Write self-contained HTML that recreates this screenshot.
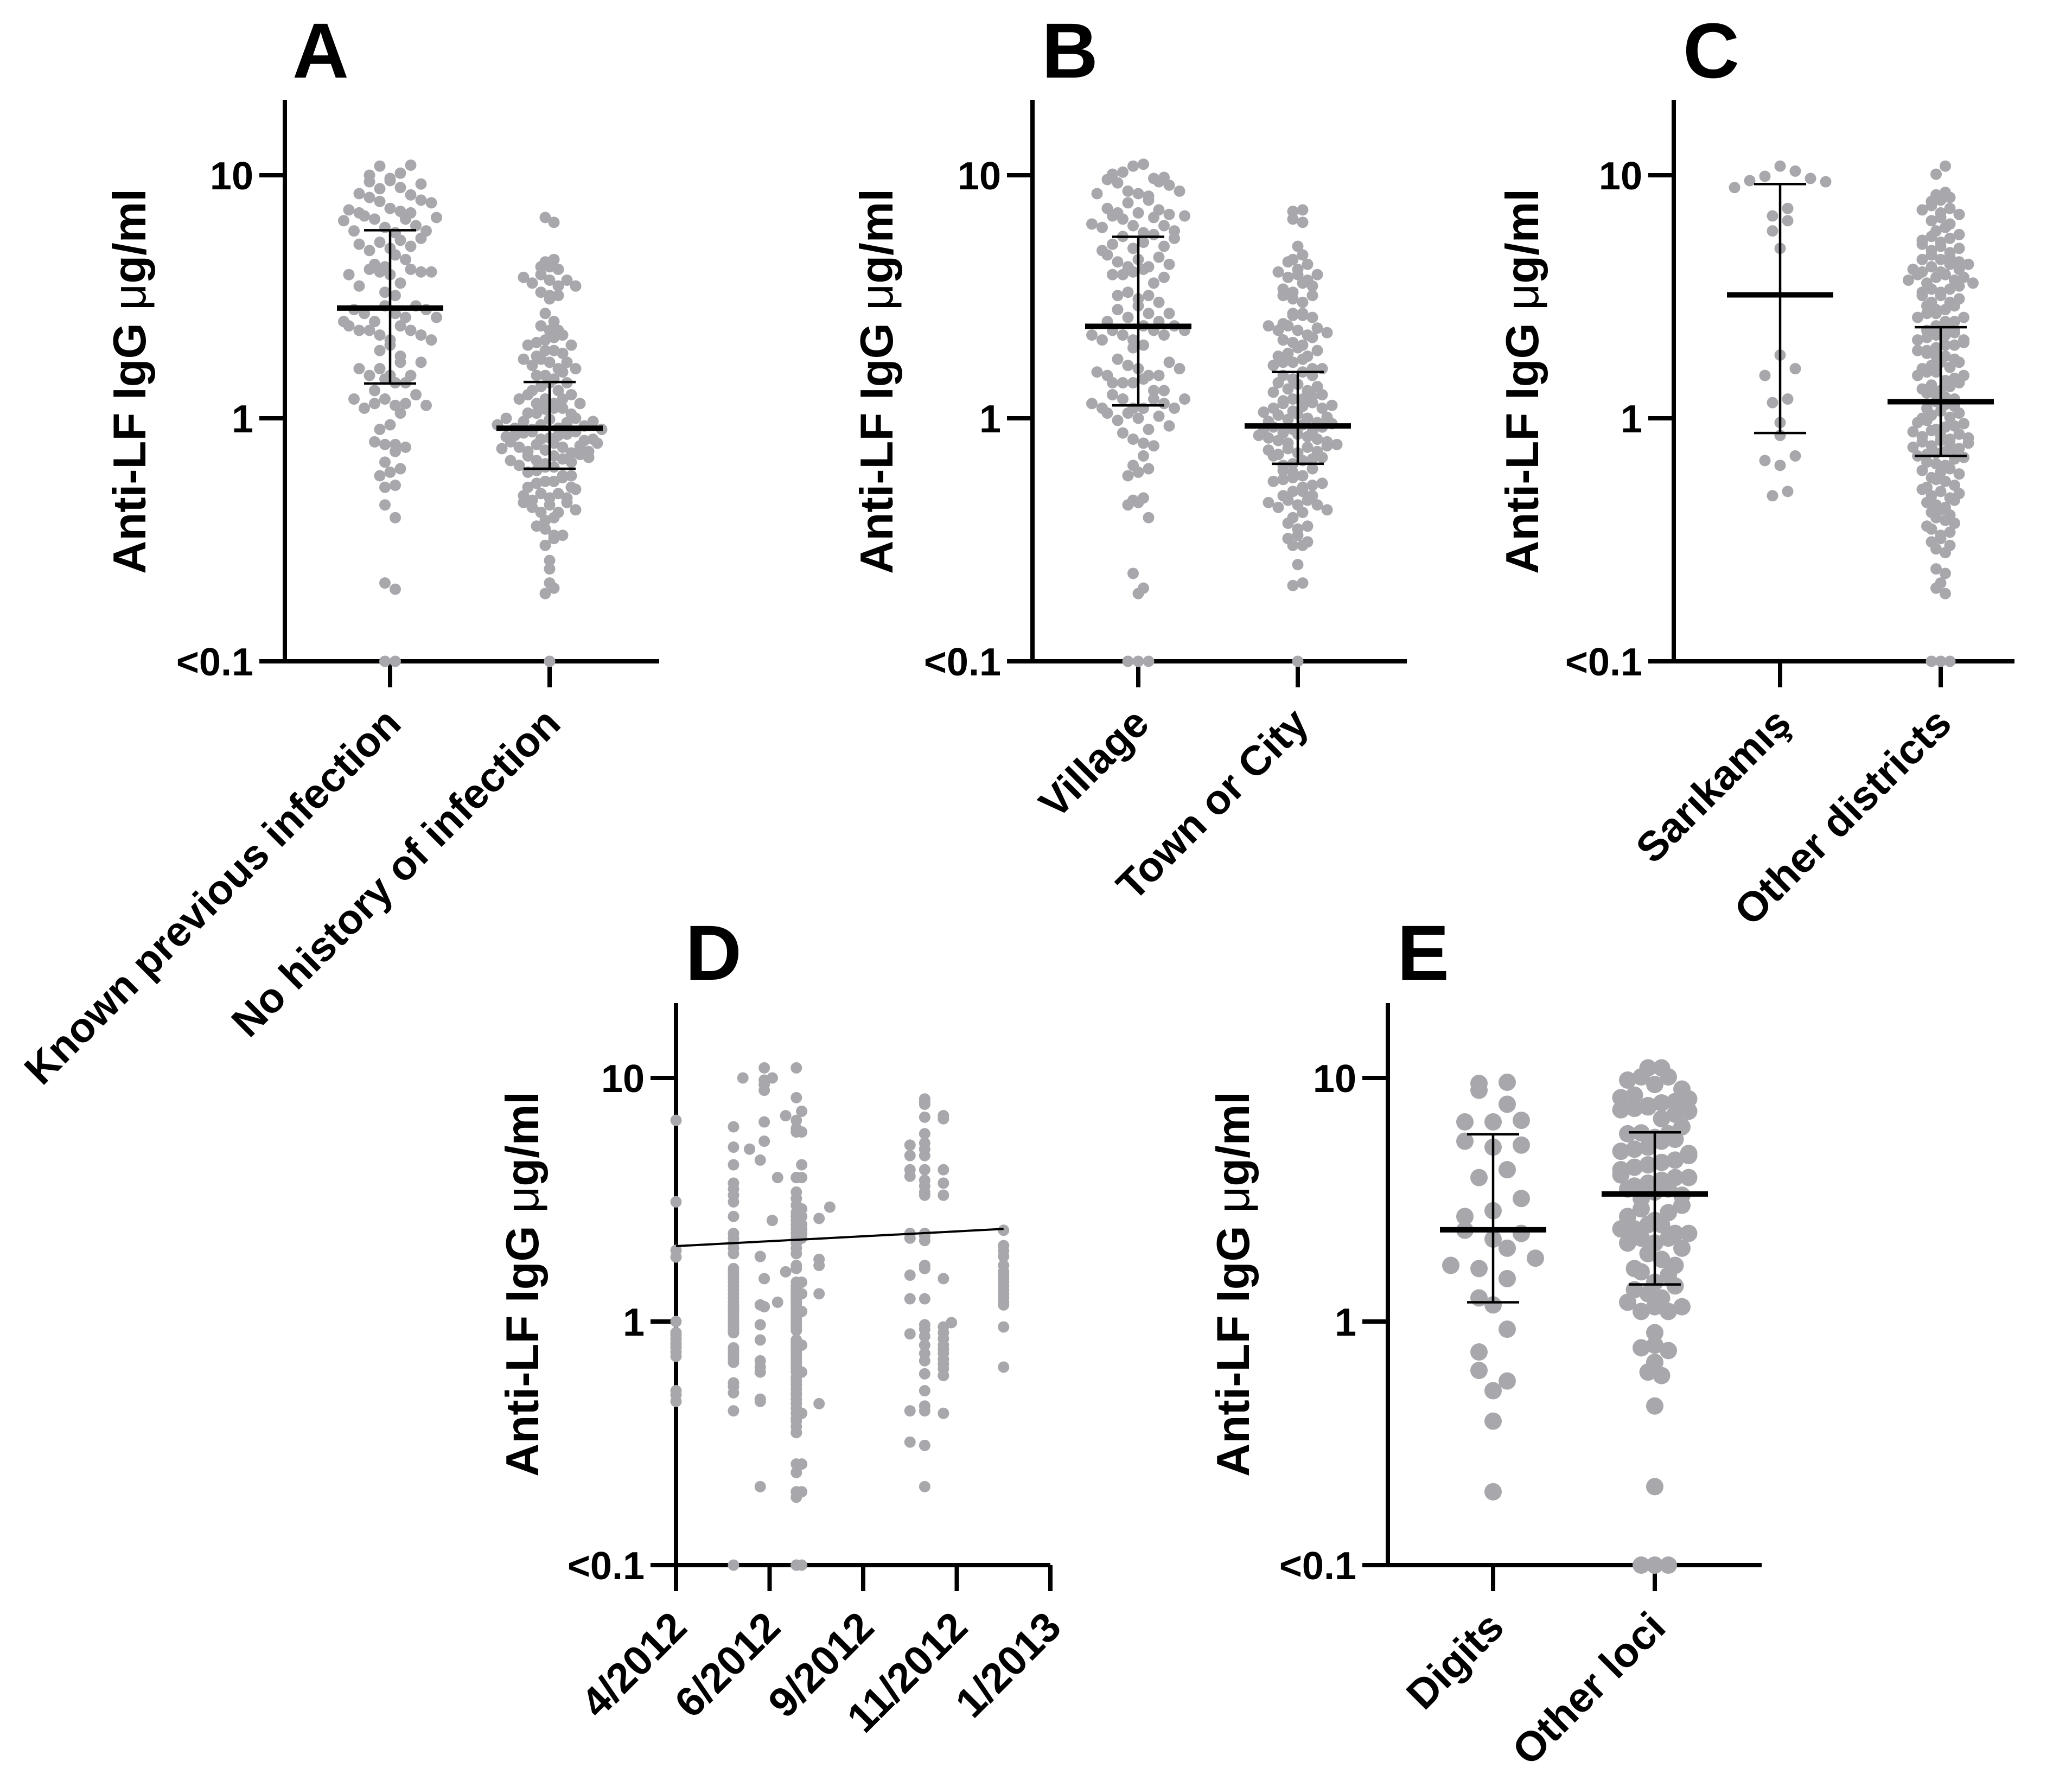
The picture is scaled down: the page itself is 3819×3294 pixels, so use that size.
<!DOCTYPE html>
<html lang="en">
<head>
<meta charset="utf-8">
<title>Anti-LF IgG by group</title>
<style>
html,body{margin:0;padding:0;background:#fff;width:3819px;height:3294px;overflow:hidden}
svg{display:block}
text{font-family:"Liberation Sans",Arial,sans-serif;fill:#000}
</style>
</head>
<body>
<svg id="figure" xmlns="http://www.w3.org/2000/svg" width="3819" height="3294" viewBox="0 0 3819 3294"></svg>
<script>
/* shared axis content */
const yTickValues = [10, 1, 0.1];
const yTickLabels = ["10", "1", "<0.1"];

/* Panel A */
const aCategories = ["Known previous infection", "No history of infection"];
const aMeans = [2.84, 0.91];
const aErrHigh = [5.94, 1.41];
const aErrLow = [1.39, 0.62];
const aKnown = [11.0,10.9,10.2,10.0,9.7,9.5,9.4,9.2,8.9,8.8,8.4,8.3,8.1,7.9,7.8,7.7,7.3,7.2,7.1,7.0,7.0,6.8,6.7,6.6,6.6,6.5,6.2,6.1,5.9,5.9,5.8,5.5,5.4,5.3,5.2,5.1,5.0,4.9,4.7,4.5,4.3,4.2,4.1,4.1,4.0,4.0,4.0,3.9,3.9,3.6,3.5,3.3,3.2,2.9,2.9,2.8,2.8,2.7,2.7,2.6,2.6,2.5,2.5,2.4,2.4,2.3,2.3,2.3,2.2,2.2,2.1,2.1,2.0,1.9,1.8,1.7,1.7,1.6,1.6,1.5,1.5,1.5,1.45,1.4,1.4,1.3,1.25,1.2,1.2,1.15,1.15,1.13,1.13,1.1,1.05,0.94,0.9,0.8,0.78,0.78,0.76,0.73,0.66,0.62,0.6,0.58,0.53,0.52,0.44,0.39,0.21,0.198,0.1,0.1];
const aNoHistory = [6.7,6.4,4.5,4.4,4.2,4.2,4.1,3.9,3.8,3.7,3.7,3.6,3.5,3.5,3.3,3.2,3.2,3.1,2.7,2.5,2.4,2.3,2.3,2.2,2.15,2.1,2.05,2.0,2.0,1.9,1.9,1.85,1.8,1.75,1.75,1.7,1.7,1.65,1.6,1.6,1.55,1.5,1.5,1.45,1.4,1.4,1.35,1.3,1.3,1.25,1.25,1.2,1.2,1.2,1.15,1.15,1.15,1.1,1.1,1.09,1.05,1.05,1.04,1.0,1.0,0.99,0.97,0.97,0.96,0.94,0.94,0.93,0.91,0.91,0.9,0.9,0.88,0.88,0.87,0.86,0.85,0.85,0.84,0.83,0.82,0.82,0.81,0.8,0.79,0.79,0.78,0.77,0.76,0.76,0.75,0.74,0.73,0.73,0.72,0.71,0.7,0.7,0.69,0.68,0.67,0.67,0.66,0.65,0.64,0.63,0.63,0.61,0.6,0.58,0.58,0.57,0.55,0.55,0.54,0.52,0.52,0.51,0.49,0.49,0.48,0.47,0.47,0.46,0.45,0.45,0.44,0.43,0.42,0.41,0.41,0.39,0.38,0.36,0.35,0.33,0.33,0.32,0.3,0.26,0.24,0.21,0.2,0.19,0.1];

/* Panel B */
const bCategories = ["Village", "Town or City"];
const bMeans = [2.39, 0.93];
const bErrHigh = [5.58, 1.55];
const bErrLow = [1.13, 0.65];
const bVillage = [11.1,10.9,10.3,10.1,9.8,9.7,9.6,9.4,9.3,9.1,8.6,8.6,8.4,8.4,8.2,7.9,7.7,7.3,7.2,7.0,7.0,6.9,6.8,6.8,6.7,6.6,6.3,6.2,6.2,6.1,5.9,5.8,5.7,5.6,5.5,5.3,5.2,5.1,5.0,4.9,4.7,4.6,4.5,4.4,4.3,4.2,4.2,4.1,4.0,3.9,3.9,3.8,3.6,3.3,3.2,3.2,3.1,3.0,2.9,2.8,2.7,2.7,2.6,2.5,2.5,2.4,2.4,2.3,2.3,2.3,2.2,2.2,2.2,2.1,2.1,2.0,1.95,1.75,1.7,1.65,1.6,1.6,1.55,1.5,1.5,1.5,1.45,1.4,1.4,1.4,1.3,1.3,1.25,1.2,1.2,1.2,1.15,1.15,1.1,1.1,1.1,1.1,1.05,1.05,1.02,1.0,0.98,0.93,0.9,0.87,0.82,0.79,0.77,0.7,0.64,0.62,0.6,0.58,0.47,0.46,0.45,0.44,0.39,0.23,0.2,0.19,0.1,0.1,0.1];
const bTown = [7.2,7.1,6.6,6.4,5.1,4.7,4.5,4.4,4.3,4.1,4.0,3.9,3.9,3.8,3.7,3.6,3.5,3.4,3.3,3.2,3.2,3.1,3.0,2.7,2.7,2.65,2.65,2.6,2.45,2.4,2.4,2.35,2.3,2.3,2.25,2.2,2.15,2.1,2.05,2.0,1.95,1.9,1.85,1.8,1.8,1.75,1.7,1.7,1.65,1.6,1.6,1.55,1.5,1.5,1.45,1.4,1.38,1.35,1.32,1.3,1.28,1.25,1.23,1.2,1.2,1.18,1.16,1.15,1.13,1.12,1.1,1.1,1.07,1.06,1.04,1.03,1.01,1.0,0.99,0.97,0.96,0.95,0.94,0.92,0.92,0.9,0.9,0.88,0.87,0.86,0.85,0.84,0.83,0.82,0.81,0.8,0.79,0.78,0.77,0.76,0.75,0.74,0.73,0.72,0.71,0.7,0.69,0.68,0.67,0.65,0.64,0.62,0.61,0.6,0.58,0.57,0.56,0.55,0.54,0.53,0.52,0.5,0.5,0.48,0.48,0.46,0.46,0.45,0.44,0.44,0.43,0.42,0.41,0.39,0.37,0.36,0.35,0.33,0.32,0.31,0.3,0.3,0.25,0.21,0.205,0.1];

/* Panel C */
const cCategories = ["Sarıkamış", "Other districts"];
const cMeans = [3.22, 1.17];
const cErrHigh = [9.2, 2.37];
const cErrLow = [0.87, 0.70];
const cSarikamis = [10.9,10.4,9.9,9.7,9.5,9.4,8.9,7.3,6.8,6.5,5.9,5.0,1.82,1.6,1.5,1.2,1.16,0.96,0.85,0.7,0.67,0.64,0.5,0.48];
const cOther = [10.9,10.1,8.5,8.3,8.1,7.9,7.8,7.5,7.3,7.2,7.0,6.9,6.7,6.5,6.3,6.1,5.9,5.7,5.6,5.5,5.4,5.3,5.2,5.1,5.0,4.9,4.8,4.7,4.6,4.5,4.5,4.4,4.3,4.3,4.2,4.1,4.1,4.0,4.0,3.9,3.9,3.8,3.8,3.7,3.7,3.6,3.6,3.5,3.4,3.4,3.3,3.3,3.2,3.2,3.1,3.0,3.0,2.9,2.9,2.8,2.8,2.7,2.7,2.6,2.6,2.5,2.5,2.4,2.4,2.3,2.3,2.25,2.2,2.2,2.15,2.1,2.1,2.05,2.0,2.0,1.95,1.9,1.9,1.85,1.8,1.8,1.75,1.7,1.7,1.65,1.62,1.6,1.55,1.55,1.5,1.5,1.46,1.43,1.4,1.37,1.35,1.32,1.3,1.27,1.25,1.22,1.2,1.17,1.14,1.12,1.1,1.07,1.05,1.03,1.01,1.0,0.98,0.96,0.95,0.93,0.92,0.9,0.89,0.88,0.86,0.85,0.84,0.83,0.82,0.81,0.8,0.79,0.78,0.77,0.76,0.75,0.74,0.73,0.72,0.71,0.7,0.69,0.68,0.66,0.65,0.64,0.62,0.61,0.6,0.59,0.57,0.56,0.55,0.53,0.52,0.51,0.5,0.49,0.48,0.47,0.46,0.45,0.44,0.43,0.42,0.41,0.4,0.39,0.38,0.37,0.36,0.35,0.34,0.33,0.32,0.31,0.3,0.29,0.28,0.24,0.23,0.21,0.2,0.19,0.1,0.1,0.1];

/* Panel D: days since April 2012, one value list per sampling date */
const dTickDays = [0, 70, 140, 210, 280];
const dTickLabels = ["4/2012", "6/2012", "9/2012", "11/2012", "1/2013"];
const dSampleDays = [0, 43, 50, 55, 63, 66, 72, 76, 82, 90, 94, 107, 115, 175, 186, 200, 206, 245];
const dDay0 = [6.7,3.1,1.96,1.84,1.0,0.9,0.88,0.85,0.82,0.8,0.78,0.75,0.72,0.52,0.5,0.47];
const dDay43 = [6.3,5.2,4.4,3.7,3.5,3.3,3.1,2.7,2.3,2.2,2.1,2.0,1.9,1.65,1.6,1.55,1.5,1.45,1.4,1.35,1.3,1.25,1.2,1.17,1.15,1.12,1.1,1.08,1.05,1.02,1.0,0.98,0.96,0.94,0.92,0.9,0.9,0.78,0.76,0.74,0.72,0.7,0.68,0.56,0.54,0.51,0.43,0.1];
const dDay50 = [10];
const dDay55 = [5.1];
const dDay63 = [4.6,1.85,1.85,1.17,0.97,0.84,0.69,0.65,0.62,0.48,0.47,0.21];
const dDay66 = [11,9.8,9.4,8.9,6.6,5.5,1.5,1.15];
const dDay72 = [10,2.6];
const dDay76 = [3.9,1.2];
const dDay82 = [7.0,1.6];
const dDay90 = [11,8.3,6.7,6.2,6.0,3.9,3.9,3.4,3.2,3,2.8,2.7,2.6,2.5,2.4,2.3,2.2,2.1,2.0,1.9,1.7,1.65,1.45,1.4,1.37,1.35,1.32,1.3,1.27,1.25,1.22,1.2,1.18,1.15,1.12,1.1,1.07,1.05,1.03,1.0,0.98,0.96,0.94,0.92,0.84,0.82,0.8,0.78,0.76,0.74,0.72,0.7,0.68,0.66,0.64,0.62,0.59,0.57,0.55,0.53,0.51,0.5,0.48,0.46,0.44,0.42,0.4,0.39,0.37,0.35,0.35,0.26,0.24,0.2,0.19,0.1,0.1,0.1];
const dDay94 = [7.3,6.0,4.4,3.9,2.9,2.7,2.5,2.4,2.3,2.2,1.45,1.3,1.1,0.8,0.62,0.42,0.26,0.2,0.1];
const dDay107 = [2.65,1.8,1.7,1.3,0.46];
const dDay115 = [2.95];
const dDay175 = [5.3,4.8,4.2,3.95,2.3,2.2,1.55,1.24,0.89,0.43,0.32];
const dDay186 = [8.2,8.0,7.8,6.9,5.9,5.4,5.1,4.8,4.2,3.8,3.6,3.4,3.3,2.3,2.25,2.15,1.7,1.65,1.24,0.97,0.93,0.87,0.8,0.74,0.69,0.61,0.52,0.45,0.43,0.31,0.21];
const dDay200 = [7.0,6.8,4.2,3.7,3.3,1.5,0.95,0.9,0.85,0.8,0.77,0.74,0.7,0.67,0.64,0.6,0.42];
const dDay206 = [0.99];
const dDay245 = [2.37,2.05,1.95,1.85,1.7,1.6,1.55,1.5,1.45,1.4,1.35,1.3,1.25,1.2,1.17,0.95,0.65];
const dSampleValues = [dDay0,dDay43,dDay50,dDay55,dDay63,dDay66,dDay72,dDay76,dDay82,dDay90,dDay94,dDay107,dDay115,dDay175,dDay186,dDay200,dDay206,dDay245];
const dTrendDays = [0, 245];
const dTrendValues = [2.04, 2.4];

/* Panel E */
const eCategories = ["Digits", "Other loci"];
const eMeans = [2.38, 3.34];
const eErrHigh = [5.87, 5.98];
const eErrLow = [1.2, 1.42];
const eDigits = [9.6,9.5,8.9,7.8,6.7,6.6,6.6,5.5,5.3,5.2,4.2,3.9,3.2,2.85,2.7,2.37,2.3,2.18,2.0,1.82,1.7,1.65,1.5,1.25,1.17,0.93,0.75,0.63,0.57,0.52,0.39,0.2];
const eOther = [11,11,10.1,10.1,9.8,9.4,9.0,8.5,8.3,8.2,8.0,7.9,7.7,7.6,7.5,7.4,7.3,7.1,6.8,6.3,5.95,5.9,5.9,5.7,5.6,5.5,5.2,5.1,5,4.9,4.8,4.6,4.5,4.4,4.3,4.2,4,3.9,3.9,3.8,3.7,3.6,3.5,3.5,3.4,3.3,3.2,3,2.9,2.8,2.7,2.6,2.5,2.5,2.4,2.4,2.3,2.3,2.2,2.2,2.1,2.1,2,1.9,1.8,1.7,1.65,1.6,1.55,1.45,1.4,1.35,1.3,1.25,1.2,1.15,1.15,1.1,1.1,0.9,0.8,0.78,0.76,0.68,0.62,0.6,0.45,0.21,0.1,0.1,0.1];

const DOT_COLOR = "#a7a7ac";
const NS = "http://www.w3.org/2000/svg";
const svg = document.getElementById("figure");

function svgEl(tag, attrs, parent) {
  const node = document.createElementNS(NS, tag);
  for (const k in attrs) node.setAttribute(k, attrs[k]);
  parent.appendChild(node);
  return node;
}

function yScale(p, v) { return p.y1 - p.decade * Math.log10(v); }

function gcd(a, b) { return b ? gcd(b, a % b) : a; }

/* Prism-style swarm: bin by pixel height, spread each bin symmetrically.
   centreHigh puts the largest value in the middle; otherwise values are
   dealt across the row so no arch appears. */
function swarm(p, values, binH, step, centreHigh) {
  const bins = {};
  values.forEach(function (v) {
    const key = v <= 0.1 ? "floor" : Math.floor(yScale(p, v) / binH);
    (bins[key] = bins[key] || []).push(v);
  });
  const out = [];
  Object.keys(bins).forEach(function (key) {
    const row = bins[key].slice().sort(function (a, b) { return b - a; });
    const n = row.length;
    const slots = [];
    for (let i = 0; i < n; i++) slots.push((i - (n - 1) / 2) * step);
    if (centreHigh) {
      slots.sort(function (a, b) { return (Math.abs(a) - Math.abs(b)) || (b - a); });
      row.forEach(function (v, i) { out.push({ v: v, dx: slots[i] }); });
    } else {
      let k = 5;
      while (gcd(k, n) !== 1) k += 2;
      const shift = Number(key) || 0;
      row.forEach(function (v, i) { out.push({ v: v, dx: slots[(i * k + shift) % n] }); });
    }
  });
  return out;
}

function drawAxes(p, g) {
  const yAxis = svgEl("line", { x1: p.axisX, x2: p.axisX, y1: p.top, y2: yScale(p, 0.1) + p.yAxisOver, stroke: "#000", "stroke-width": 8 }, g);
  
  
  const xAxis = svgEl("line", { x1: p.axisX - 47, x2: p.xEnd, y1: yScale(p, 0.1), y2: yScale(p, 0.1), stroke: "#000", "stroke-width": 8 }, g);
  
  
  yTickValues.forEach(function (t, i) {
    const y = yScale(p, t);
    const tick = svgEl("line", { x1: p.axisX - 47, x2: p.axisX, y1: y, y2: y, stroke: "#000", "stroke-width": 8 }, g);
    
    
    const lab = svgEl("text", { x: p.axisX - 58, y: y + 26, "text-anchor": "end", "font-size": 72, "font-weight": "bold" }, g);
    lab.textContent = yTickLabels[i];
    
    
  });
  const title = svgEl("text", { transform: "translate(" + p.titleX + "," + p.titleY + ") rotate(-90)", "text-anchor": "middle", "font-size": 85, "font-weight": "bold" }, g);
  
  
  const t1 = svgEl("tspan", {}, title);
  t1.textContent = "Anti-LF IgG ";
  const t2 = svgEl("tspan", { "font-weight": "normal" }, title);
  t2.textContent = "μ";
  const t3 = svgEl("tspan", {}, title);
  t3.textContent = "g/ml";
  const letter = svgEl("text", { x: p.letterX, y: p.letterY, "font-size": 144, "font-weight": "bold" }, g);
  letter.textContent = p.letter;
  
  
}

function drawXTick(p, g, x, label) {
  const base = yScale(p, 0.1);
  const tick = svgEl("line", { x1: x, x2: x, y1: base, y2: base + 48, stroke: "#000", "stroke-width": 8 }, g);
  
  
  const lab = svgEl("text", { transform: "translate(" + (x + 24) + "," + (base + 119) + ") rotate(-45)", "text-anchor": "end", "font-size": 77, "font-weight": "bold" }, g);
  lab.textContent = label;
  
  
}

function drawDot(p, g, x, v, r) {
  const dot = svgEl("circle", { cx: x, cy: yScale(p, v), r: r, fill: DOT_COLOR }, g);
  
  
}

function drawSummary(p, g, x, mean, hi, lo) {
  const stem = svgEl("line", { x1: x, x2: x, y1: yScale(p, hi), y2: yScale(p, lo), stroke: "#000", "stroke-width": 4.5 }, g);
  
  
  [hi, lo].forEach(function (c) {
    const cap = svgEl("line", { x1: x - 48, x2: x + 48, y1: yScale(p, c), y2: yScale(p, c), stroke: "#000", "stroke-width": 4.5 }, g);
    
    
  });
  const m = svgEl("line", { x1: x - 98, x2: x + 98, y1: yScale(p, mean), y2: yScale(p, mean), stroke: "#000", "stroke-width": 10 }, g);
  
  
}

function drawCategoryPanel(p) {
  const g = svgEl("g", {}, svg);
  
  
  drawAxes(p, g);
  p.groups.forEach(function (gr, i) {
    drawXTick(p, g, gr.x, p.categories[i]);
    swarm(p, gr.values, gr.bin, gr.step, gr.centreHigh).forEach(function (pt) {
      drawDot(p, g, gr.x + pt.dx, pt.v, p.r);
    });
  });
  p.groups.forEach(function (gr, i) {
    drawSummary(p, g, gr.x, p.means[i], p.hi[i], p.lo[i]);
  });
}

drawCategoryPanel({ name: "panel-a", letter: "A", letterX: 539, letterY: 143, axisX: 525, xEnd: 1215, top: 184, y1: 771, decade: 448, yAxisOver: 0, titleX: 268, titleY: 703, r: 10.5,
  categories: aCategories, means: aMeans, hi: aErrHigh, lo: aErrLow,
  groups: [{ x: 719, values: aKnown, bin: 33, step: 19 }, { x: 1013, values: aNoHistory, bin: 22, step: 16 }] });

drawCategoryPanel({ name: "panel-b", letter: "B", letterX: 1920, letterY: 143, axisX: 1903, xEnd: 2593, top: 184, y1: 771, decade: 448, yAxisOver: 0, titleX: 1645, titleY: 703, r: 10.5,
  categories: bCategories, means: bMeans, hi: bErrHigh, lo: bErrLow,
  groups: [{ x: 2098, values: bVillage, bin: 33, step: 19 }, { x: 2392, values: bTown, bin: 20, step: 18 }] });

drawCategoryPanel({ name: "panel-c", letter: "C", letterX: 3102, letterY: 143, axisX: 3085, xEnd: 3713, top: 184, y1: 771, decade: 448, yAxisOver: 0, titleX: 2835, titleY: 703, r: 10.5,
  categories: cCategories, means: cMeans, hi: cErrHigh, lo: cErrLow,
  groups: [{ x: 3281, values: cSarikamis, bin: 50, step: 28, centreHigh: true }, { x: 3577, values: cOther, bin: 18, step: 17 }] });

drawCategoryPanel({ name: "panel-e", letter: "E", letterX: 2575, letterY: 1806, axisX: 2558, xEnd: 3247, top: 1849, y1: 2436, decade: 449, yAxisOver: 0, titleX: 2302, titleY: 2367, r: 16,
  categories: eCategories, means: eMeans, hi: eErrHigh, lo: eErrLow,
  groups: [{ x: 2752, values: eDigits, bin: 50, step: 52 }, { x: 3050, values: eOther, bin: 30, step: 25 }] });

(function drawPanelD() {
  const p = { name: "panel-d", letter: "D", letterX: 1263, letterY: 1806, axisX: 1246, xEnd: 1936, top: 1849, y1: 2436, decade: 449, yAxisOver: 48, titleX: 992, titleY: 2367, r: 10.5 };
  const xDay = function (d) { return p.axisX + (d / dTickDays[dTickDays.length - 1]) * (p.xEnd - p.axisX); };
  const g = svgEl("g", {}, svg);
  
  
  drawAxes(p, g);
  dTickDays.forEach(function (d, i) { drawXTick(p, g, xDay(d), dTickLabels[i]); });
  dSampleDays.forEach(function (d, i) {
    dSampleValues[i].forEach(function (v) { drawDot(p, g, xDay(d), v, p.r); });
  });
  const trend = svgEl("line", { x1: xDay(dTrendDays[0]), x2: xDay(dTrendDays[1]), y1: yScale(p, dTrendValues[0]), y2: yScale(p, dTrendValues[1]), stroke: "#000", "stroke-width": 4 }, g);
  
  
})();
</script>
</body>
</html>
